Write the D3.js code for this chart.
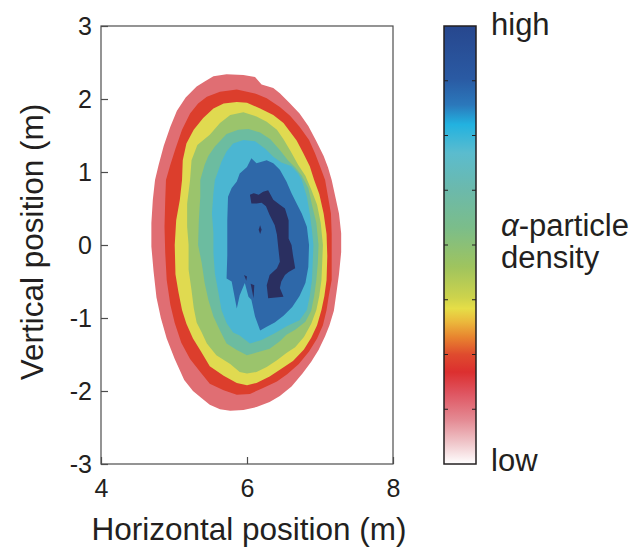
<!DOCTYPE html>
<html>
<head>
<meta charset="utf-8">
<script src="https://cdn.jsdelivr.net/npm/d3@7"></script>
<style>
  body { margin: 0; background: #fff; }
  text { font-family: "Liberation Sans", Arial, Helvetica, sans-serif; fill: #231f20; }
</style>
</head>
<body>
<svg class="contour-chart"></svg>
<script>
// axis ticks
const xTicks = [4, 6, 8];
const yTicks = [-3, -2, -1, 0, 1, 2, 3];

// filled contour outlines, [horizontal m, vertical m], lowest level first
const pinkOutline = [[5.31,2.17],[5.42,2.24],[5.54,2.31],[5.72,2.34],[5.95,2.33],[6.11,2.30],[6.20,2.20],[6.36,2.15],[6.45,2.08],[6.59,1.94],[6.72,1.80],[6.84,1.63],[6.95,1.42],[7.05,1.22],[7.11,1.06],[7.16,0.89],[7.21,0.66],[7.26,0.43],[7.29,0.16],[7.29,-0.10],[7.26,-0.40],[7.23,-0.62],[7.19,-0.90],[7.13,-1.10],[7.07,-1.25],[6.98,-1.44],[6.88,-1.60],[6.76,-1.76],[6.61,-1.94],[6.45,-2.07],[6.31,-2.15],[6.13,-2.22],[5.95,-2.26],[5.77,-2.27],[5.63,-2.25],[5.49,-2.19],[5.38,-2.10],[5.26,-2.00],[5.14,-1.85],[5.01,-1.56],[4.90,-1.28],[4.82,-1.00],[4.76,-0.72],[4.72,-0.36],[4.69,-0.02],[4.69,0.30],[4.71,0.62],[4.74,0.89],[4.79,1.10],[4.86,1.36],[4.95,1.62],[5.04,1.84],[5.16,2.02]];
const redOutline = [[5.33,1.94],[5.45,2.03],[5.63,2.10],[5.86,2.13],[6.00,2.10],[6.13,2.07],[6.27,2.01],[6.45,1.89],[6.59,1.77],[6.72,1.62],[6.85,1.44],[6.93,1.26],[7.00,1.08],[7.07,0.89],[7.11,0.66],[7.15,0.43],[7.16,0.15],[7.16,-0.20],[7.16,-0.48],[7.12,-0.70],[7.09,-0.89],[7.04,-1.10],[6.96,-1.28],[6.85,-1.46],[6.71,-1.63],[6.55,-1.77],[6.41,-1.87],[6.22,-1.96],[6.04,-2.04],[5.86,-2.05],[5.68,-1.99],[5.49,-1.90],[5.36,-1.74],[5.22,-1.56],[5.10,-1.34],[5.01,-1.07],[4.95,-0.82],[4.90,-0.48],[4.88,-0.11],[4.87,0.25],[4.88,0.62],[4.89,0.89],[4.95,1.10],[5.02,1.32],[5.11,1.58],[5.22,1.80]];
const yellowOutline = [[5.40,1.74],[5.54,1.87],[5.68,1.94],[5.86,1.96],[6.00,1.95],[6.18,1.87],[6.36,1.78],[6.50,1.67],[6.59,1.55],[6.68,1.43],[6.77,1.26],[6.86,1.08],[6.92,0.89],[6.99,0.70],[7.05,0.43],[7.09,0.15],[7.10,-0.15],[7.09,-0.48],[7.06,-0.70],[7.02,-0.89],[6.96,-1.10],[6.88,-1.27],[6.78,-1.43],[6.63,-1.59],[6.45,-1.71],[6.31,-1.80],[6.13,-1.89],[6.00,-1.92],[5.86,-1.89],[5.68,-1.79],[5.49,-1.66],[5.37,-1.46],[5.26,-1.28],[5.17,-1.08],[5.11,-0.89],[5.06,-0.64],[5.02,-0.40],[5.01,0.00],[5.03,0.34],[5.08,0.62],[5.11,0.89],[5.12,1.16],[5.17,1.39],[5.27,1.58]];
const greenOutline = [[5.49,1.51],[5.63,1.67],[5.77,1.78],[5.95,1.82],[6.13,1.76],[6.27,1.69],[6.41,1.58],[6.50,1.45],[6.60,1.28],[6.70,1.10],[6.80,0.95],[6.88,0.76],[6.96,0.55],[7.01,0.30],[7.04,0.00],[7.03,-0.25],[7.02,-0.48],[6.99,-0.70],[6.95,-0.89],[6.88,-1.08],[6.78,-1.26],[6.66,-1.40],[6.54,-1.48],[6.41,-1.58],[6.27,-1.67],[6.13,-1.74],[6.00,-1.76],[5.90,-1.74],[5.77,-1.63],[5.58,-1.51],[5.45,-1.35],[5.38,-1.20],[5.31,-1.06],[5.27,-0.86],[5.24,-0.62],[5.20,-0.34],[5.20,0.00],[5.18,0.25],[5.18,0.57],[5.22,0.89],[5.24,1.16],[5.32,1.37]];
const tealOutline = [[5.56,1.35],[5.72,1.52],[5.88,1.58],[6.02,1.59],[6.18,1.54],[6.32,1.45],[6.45,1.30],[6.56,1.16],[6.66,1.06],[6.75,0.95],[6.84,0.78],[6.89,0.55],[6.95,0.30],[6.98,0.00],[6.97,-0.25],[6.95,-0.48],[6.92,-0.70],[6.88,-0.90],[6.80,-1.05],[6.66,-1.16],[6.54,-1.23],[6.45,-1.32],[6.31,-1.42],[6.18,-1.46],[6.00,-1.51],[5.86,-1.44],[5.72,-1.35],[5.63,-1.17],[5.54,-0.98],[5.47,-0.75],[5.42,-0.52],[5.38,-0.25],[5.33,0.00],[5.34,0.34],[5.36,0.66],[5.36,0.89],[5.42,1.10],[5.47,1.22]];
const cyanOutline = [[5.72,1.28],[5.81,1.39],[5.95,1.44],[6.11,1.42],[6.25,1.32],[6.36,1.21],[6.47,1.13],[6.61,1.08],[6.70,0.98],[6.75,0.89],[6.82,0.66],[6.86,0.43],[6.89,0.20],[6.91,0.00],[6.90,-0.25],[6.89,-0.48],[6.86,-0.70],[6.82,-0.89],[6.72,-1.03],[6.55,-1.11],[6.38,-1.21],[6.20,-1.30],[6.04,-1.35],[5.90,-1.24],[5.81,-1.20],[5.72,-1.07],[5.65,-0.89],[5.61,-0.66],[5.56,-0.39],[5.54,-0.11],[5.54,0.16],[5.52,0.43],[5.54,0.71],[5.56,0.89],[5.60,1.00],[5.65,1.14]];
const blueOutline = [[5.79,0.78],[5.86,0.87],[5.90,0.98],[6.00,1.07],[6.06,1.19],[6.13,1.12],[6.20,1.14],[6.27,1.16],[6.36,1.12],[6.45,1.03],[6.54,0.87],[6.61,0.71],[6.68,0.57],[6.75,0.43],[6.82,0.25],[6.85,0.00],[6.84,-0.30],[6.80,-0.52],[6.72,-0.70],[6.62,-0.85],[6.50,-0.97],[6.38,-1.06],[6.27,-1.12],[6.18,-1.17],[6.11,-0.98],[6.06,-0.75],[6.02,-0.71],[5.97,-0.52],[5.90,-0.69],[5.86,-0.87],[5.79,-0.50],[5.72,-0.46],[5.73,-0.14],[5.73,0.34],[5.74,0.66]];
const navyOutline = [[6.04,0.69],[6.09,0.71],[6.16,0.69],[6.22,0.73],[6.29,0.75],[6.36,0.62],[6.45,0.55],[6.52,0.50],[6.57,0.34],[6.57,0.09],[6.61,0.00],[6.63,-0.14],[6.66,-0.32],[6.57,-0.37],[6.52,-0.41],[6.47,-0.50],[6.45,-0.59],[6.50,-0.71],[6.29,-0.73],[6.27,-0.55],[6.31,-0.41],[6.41,-0.32],[6.45,-0.23],[6.43,-0.05],[6.41,0.14],[6.38,0.27],[6.31,0.41],[6.26,0.53],[6.20,0.58],[6.13,0.57],[6.06,0.57]];
const navySpeckA = [[6.18,0.27],[6.20,0.21],[6.18,0.15],[6.16,0.21]];
const navySpeckB = [[5.96,-0.41],[6.00,-0.43],[5.99,-0.49]];
const navySpeckC = [[6.05,-0.53],[6.10,-0.55],[6.09,-0.73]];

const levelOutlines = [pinkOutline, redOutline, yellowOutline, greenOutline, tealOutline, cyanOutline, blueOutline, navyOutline, navySpeckA, navySpeckB, navySpeckC];
const levelColors = ["#e06e73", "#dc3e2c", "#e0da50", "#9bc46c", "#6cbca0", "#4bb6d2", "#2e68a9", "#2a2f60", "#2a2f60", "#2a2f60", "#2a2f60"];

// colour bar
const barStops = [0, 0.12, 0.18, 0.225, 0.29, 0.37, 0.46, 0.55, 0.62, 0.645, 0.675, 0.71, 0.75, 0.79, 0.84, 0.90, 0.95, 1];
const barColors = ["#27478e", "#2a5aa3", "#2b78bb", "#22b2e0", "#5bbcce", "#6bb9ad", "#7bbd8a", "#9fc45e", "#cdd34c", "#e6de47", "#ebb93c", "#e8852f", "#df4b2e", "#dc2f2f", "#df5662", "#e48b94", "#efc4c8", "#ffffff"];
const barTicks = [1, 2, 3, 4, 5, 6, 7];

const svgWidth = 640, svgHeight = 549;
const svg = d3.select("svg.contour-chart")
  .attr("width", svgWidth)
  .attr("height", svgHeight);

const x = d3.scaleLinear().domain([4, 8]).range([101, 393]);
const y = d3.scaleLinear().domain([-3, 3]).range([464, 26]);

const area = d3.line()
  .x(d => x(d[0]))
  .y(d => y(d[1]))
  .curve(d3.curveLinearClosed);

svg.append("g")
  .selectAll("path")
  .data(levelOutlines)
  .join("path")
  .attr("fill", (d, i) => levelColors[i])
  .attr("d", area);

// frame
svg.append("rect")
  .attr("x", x(4)).attr("y", y(3))
  .attr("width", x(8) - x(4)).attr("height", y(-3) - y(3))
  .attr("fill", "none")
  .attr("stroke", "#4d4d4d")
  .attr("stroke-width", 1.2);

const plain = d => String(d);

const yAxis = svg.append("g")
  .attr("transform", `translate(${x(4)},0)`)
  .call(d3.axisLeft(y).tickValues(yTicks).tickFormat(plain).tickSizeInner(-7).tickSizeOuter(0).tickPadding(9));
yAxis.select(".domain").remove();

const xAxis = svg.append("g")
  .attr("transform", `translate(0,${y(-3)})`)
  .call(d3.axisBottom(x).tickValues(xTicks).tickFormat(plain).tickSizeInner(-7).tickSizeOuter(0).tickPadding(15));
xAxis.select(".domain").remove();

svg.selectAll(".tick line").attr("stroke", "#4d4d4d").attr("stroke-width", 1.2);
svg.selectAll(".tick text")
  .attr("font-family", "Liberation Sans, Arial, sans-serif")
  .attr("font-size", 25)
  .attr("fill", "#231f20");

svg.append("text")
  .attr("x", 249).attr("y", 540)
  .attr("text-anchor", "middle")
  .attr("font-size", 31.5)
  .text("Horizontal position (m)");

svg.append("text")
  .attr("transform", "translate(43,242) rotate(-90)")
  .attr("text-anchor", "middle")
  .attr("font-size", 31.5)
  .text("Vertical position (m)");

// colour bar
const grad = svg.append("defs").append("linearGradient")
  .attr("id", "densityGrad")
  .attr("x1", 0).attr("y1", 0).attr("x2", 0).attr("y2", 1);
grad.selectAll("stop")
  .data(barStops)
  .join("stop")
  .attr("offset", d => d)
  .attr("stop-color", (d, i) => barColors[i]);

const cb = d3.scaleLinear().domain([0, 8]).range([464, 26]);
const barLeft = 444, barRight = 476;

svg.append("rect")
  .attr("x", barLeft).attr("y", cb(8))
  .attr("width", barRight - barLeft).attr("height", cb(0) - cb(8))
  .attr("fill", "url(#densityGrad)")
  .attr("stroke", "#231f20")
  .attr("stroke-width", 1.5);

svg.append("g")
  .selectAll("path")
  .data(barTicks)
  .join("path")
  .attr("d", d => `M${barLeft},${cb(d)}h4M${barRight},${cb(d)}h-4`)
  .attr("stroke", "#231f20")
  .attr("stroke-width", 1.2);

svg.append("text").attr("x", 491).attr("y", 35).attr("font-size", 31).text("high");
svg.append("text").attr("x", 491).attr("y", 471).attr("font-size", 31).text("low");

const lbl = svg.append("text").attr("x", 501).attr("y", 236).attr("font-size", 31);
lbl.append("tspan").attr("font-style", "italic").text("α");
lbl.append("tspan").text("-particle");
svg.append("text").attr("x", 501).attr("y", 268).attr("font-size", 31).text("density");
</script>
</body>
</html>
